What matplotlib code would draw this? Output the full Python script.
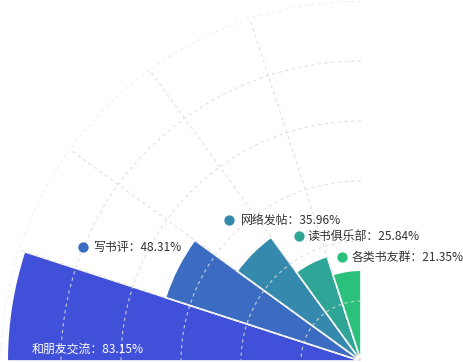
import numpy as np
import matplotlib
matplotlib.use("Agg")
import matplotlib.pyplot as plt

plt.rcParams["font.family"] = ["Noto Sans CJK SC", "DejaVu Sans"]

# data
categories = ["和朋友交流", "写书评", "网络发帖", "读书俱乐部", "各类书友群"]
shares = [83.15, 48.31, 35.96, 25.84, 21.35]
colors = ["#4150d8", "#3b6cc1", "#3589ad", "#2ea596", "#29c17b"]

W, H = 464, 362
r_max = 84.6
sector = 18.0
center_px = (361, 1)  # from bottom-left
radius_px = 360

fig = plt.figure(figsize=(W / 100, H / 100), dpi=100)

# quarter rose, center at the bottom right corner of the wedge
ax = fig.add_axes([1 / W, 1 / H, 360 / W, 360 / H], projection="polar")
ax.set_thetamin(90)
ax.set_thetamax(180)
theta = np.deg2rad(180 - sector * (np.arange(len(shares)) + 0.5))
ax.bar(theta, shares, width=np.deg2rad(sector), color=colors,
       edgecolor="white", linewidth=1.2, zorder=2)
ax.set_ylim(0, r_max)
ax.axis("off")

# dashed split lines drawn over the bars
grid_kw = dict(color="#dcdcdc", linestyle=(0, (3, 3)), linewidth=0.8, alpha=0.85, zorder=3)
arc = np.linspace(np.pi / 2, np.pi, 300)
for r in r_max * np.arange(1, 7) / 6:
    ax.plot(arc, np.full_like(arc, r), **grid_kw)
for t in np.deg2rad(np.arange(90, 181, sector)):
    ax.plot([t, t], [0, r_max], **grid_kw)

# move the wedge so the pole and outer ring land where the reference has them
fig.canvas.draw()
c = ax.transData.transform((np.pi / 2, 0))
top = ax.transData.transform((np.pi / 2, r_max))
s = radius_px / (top[1] - c[1])
x0, y0, w, h = ax.get_position().bounds
x0, w = x0 * W, w * W
y0, h = y0 * H, h * H
fx, fy = (c[0] - x0) / w, (c[1] - y0) / h
nw, nh = w * s, h * s
nx0 = center_px[0] - fx * nw
ny0 = center_px[1] - fy * nh
ax.set_position([nx0 / W, ny0 / H, nw / W, nh / H])

# overlay for labels in pixel coordinates
ov = fig.add_axes([0, 0, 1, 1])
ov.set_xlim(0, W)
ov.set_ylim(H, 0)
ov.axis("off")

dot_pos = [(None, None), (83, 247), (229, 220), (299, 236), (342, 257)]
text_pos = [(32, 349), (93, 247), (241, 220), (308, 236), (352, 257)]
for i, (name, val) in enumerate(zip(categories, shares)):
    tx, ty = text_pos[i]
    txt = f"{name}：{val:.2f}%"
    if i == 0:
        ov.text(tx, ty, txt, color="white", fontsize=8.6, va="center", ha="left")
    else:
        dx, dy = dot_pos[i]
        ov.scatter([dx], [dy], s=55, color=colors[i], linewidths=0, zorder=3)
        ov.text(tx, ty, txt, color="#333333", fontsize=8.6, va="center", ha="left")

fig.savefig("out.png", dpi=100)
